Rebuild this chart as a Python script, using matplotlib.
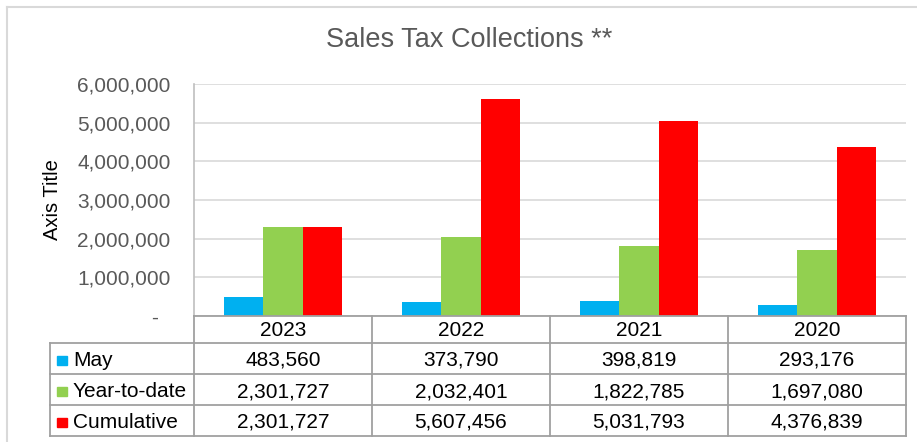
import matplotlib
matplotlib.use("Agg")
import matplotlib.pyplot as plt
from matplotlib.lines import Line2D
from matplotlib.patches import Rectangle
from matplotlib.ticker import FuncFormatter
from matplotlib.transforms import blended_transform_factory

# data
years = ["2023", "2022", "2021", "2020"]
series_names = ["May", "Year-to-date", "Cumulative"]
may = [483560, 373790, 398819, 293176]
year_to_date = [2301727, 2032401, 1822785, 1697080]
cumulative = [2301727, 5607456, 5031793, 4376839]
colors = ["#00B0F0", "#92D050", "#FF0000"]

plt.rcParams['font.family'] = ['Liberation Sans', 'DejaVu Sans']

W, H = 917, 442
fig = plt.figure(figsize=(W / 100, H / 100), dpi=100)


def fx(px):
    return px / W


def fy(px):
    return 1 - px / H


# outer chart border (only top and left are visible in the crop)
fig.add_artist(Line2D([fx(7), 1], [fy(7), fy(7)], color="#d9d9d9", lw=1.5))
fig.add_artist(Line2D([fx(7), fx(7)], [fy(7), 0], color="#d9d9d9", lw=1.5))

ax = fig.add_axes([fx(194), fy(316), fx(906) - fx(194), fy(84) - fy(316)])

series = [may, year_to_date, cumulative]
n = len(series)
width = (2 / 3) / n
xs = range(len(years))
for j, (vals, c) in enumerate(zip(series, colors)):
    ax.bar([i + (j - (n - 1) / 2) * width for i in xs], vals,
           width=width, color=c, zorder=2)

ax.set_xlim(-0.5, len(years) - 0.5)
ax.set_ylim(0, 6_000_000)
ax.set_yticks(range(0, 6_000_001, 1_000_000))
ax.yaxis.set_major_formatter(
    FuncFormatter(lambda v, p: f"{v:,.0f}" if v else "-  "))
ax.tick_params(axis='y', length=0, pad=17, labelsize=15, labelcolor='#595959')
ax.tick_params(axis='x', bottom=False, labelbottom=False)
ax.grid(axis='y', color='#d9d9d9', lw=1.2, zorder=0)
ax.set_axisbelow(True)
for s in ['top', 'right', 'bottom']:
    ax.spines[s].set_visible(False)
ax.spines['left'].set_color('#bfbfbf')
ax.spines['left'].set_linewidth(1.2)

fig.text(fx(469), fy(40), "Sales Tax Collections **", ha='center', va='center',
         fontsize=19.5, color='#595959')
fig.text(fx(52), fy(200), "Axis Title", rotation=90, ha='center', va='center',
         fontsize=14.5, color='black')

# data table under the plot
border = "#a0a0a0"
lw = 1.3
row_lines = [316, 343, 374, 405, 436]
x_left = fx(50)
x_right = ax.get_position().x1
trans = blended_transform_factory(ax.transData, fig.transFigure)

fig.add_artist(Line2D([ax.get_position().x0, x_right], [fy(316), fy(316)],
                      color=border, lw=lw))
for yp in row_lines[1:]:
    fig.add_artist(Line2D([x_left, x_right], [fy(yp), fy(yp)], color=border, lw=lw))
fig.add_artist(Line2D([x_left, x_left], [fy(343), fy(436)], color=border, lw=lw))
for b in range(len(years) + 1):
    fig.add_artist(Line2D([b - 0.5, b - 0.5], [fy(316), fy(436)], color=border,
                          lw=lw, transform=trans))

for i, yr in enumerate(years):
    fig.text(i, fy(336), yr, transform=trans, ha='center', va='baseline',
             fontsize=15, color='black')

for r, (name, vals, c) in enumerate(zip(series_names, series, colors)):
    top = row_lines[r + 1]
    fig.add_artist(Rectangle((fx(57), fy(top + 22)), fx(10), 9 / H,
                             color=c, transform=fig.transFigure))
    fig.text(fx(73), fy(top + 23), name, ha='left', va='baseline',
             fontsize=15, color='black')
    for i, v in enumerate(vals):
        fig.text(i, fy(top + 23), f"{v:,}", transform=trans, ha='center',
                 va='baseline', fontsize=15, color='black')

fig.savefig("out.png", dpi=100)
